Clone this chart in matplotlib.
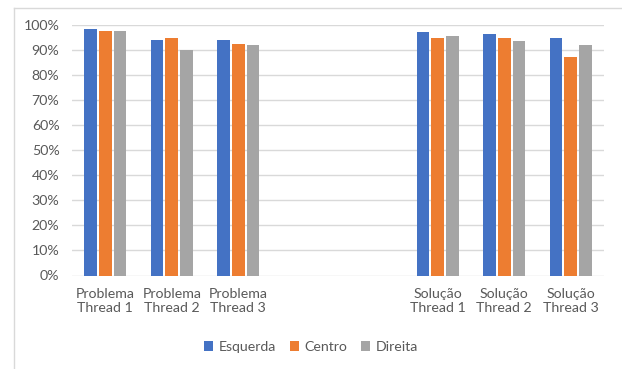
import numpy as np
import matplotlib
matplotlib.use("Agg")
import matplotlib.pyplot as plt
from matplotlib.lines import Line2D
from matplotlib.patches import Patch

categories = ["Problema\nThread 1", "Problema\nThread 2", "Problema\nThread 3", "", "",
              "Solução\nThread 1", "Solução\nThread 2", "Solução\nThread 3"]
series_names = ["Esquerda", "Centro", "Direita"]
esquerda = [0.983, 0.941, 0.941, np.nan, np.nan, 0.972, 0.965, 0.949]
centro = [0.974, 0.946, 0.922, np.nan, np.nan, 0.946, 0.946, 0.872]
direita = [0.976, 0.900, 0.918, np.nan, np.nan, 0.957, 0.937, 0.918]
yticks = [i / 10 for i in range(11)]
colors = ["#4472C4", "#ED7D31", "#A5A5A5"]

plt.rcParams['font.family'] = ['Lato', 'DejaVu Sans']
text_color = "#595959"
fs = 10.2

fig = plt.figure(figsize=(6.22, 3.69), dpi=100)
ax = fig.add_axes([72/622, 93.5/369, 532/622, (344.2-93.5)/369])

x = np.arange(len(categories))
slot = 0.222
width = 0.19
for i, (vals, name) in enumerate(zip([esquerda, centro, direita], series_names)):
    ax.bar(x + (i - 1) * slot, vals, width=width, color=colors[i], label=name, zorder=3)

ax.set_xlim(-0.5, len(categories) - 0.5)
ax.set_ylim(0, 1)
ax.set_yticks(yticks)
ax.set_yticklabels([f"{int(round(t*100))}%" for t in yticks], color=text_color, fontsize=fs)
ax.set_xticks(x)
ax.set_xticklabels(categories, color=text_color, fontsize=fs, linespacing=1.15)
ax.tick_params(axis='both', length=0)
ax.tick_params(axis='y', pad=9)
ax.tick_params(axis='x', pad=9)
ax.grid(axis='y', color="#D9D9D9", linewidth=1, zorder=0)
for s in ax.spines.values():
    s.set_visible(False)

handles = [Patch(facecolor=c, label=n) for c, n in zip(colors, series_names)]
leg = fig.legend(handles=handles, loc='center', bbox_to_anchor=(311/622, 1 - 347/369),
                 ncol=3, frameon=False, fontsize=fs, handlelength=0.65, handleheight=0.65,
                 handletextpad=0.35, columnspacing=1.0)
for t in leg.get_texts():
    t.set_color(text_color)

# chart-area border (left and top edges visible)
fig.add_artist(Line2D([13.5/622, 13.5/622], [0, 1 - 7.5/369], transform=fig.transFigure,
                      color="#D9D9D9", linewidth=1))
fig.add_artist(Line2D([13.5/622, 1], [1 - 7.5/369, 1 - 7.5/369], transform=fig.transFigure,
                      color="#D9D9D9", linewidth=1))

fig.savefig("out.png", dpi=100)
